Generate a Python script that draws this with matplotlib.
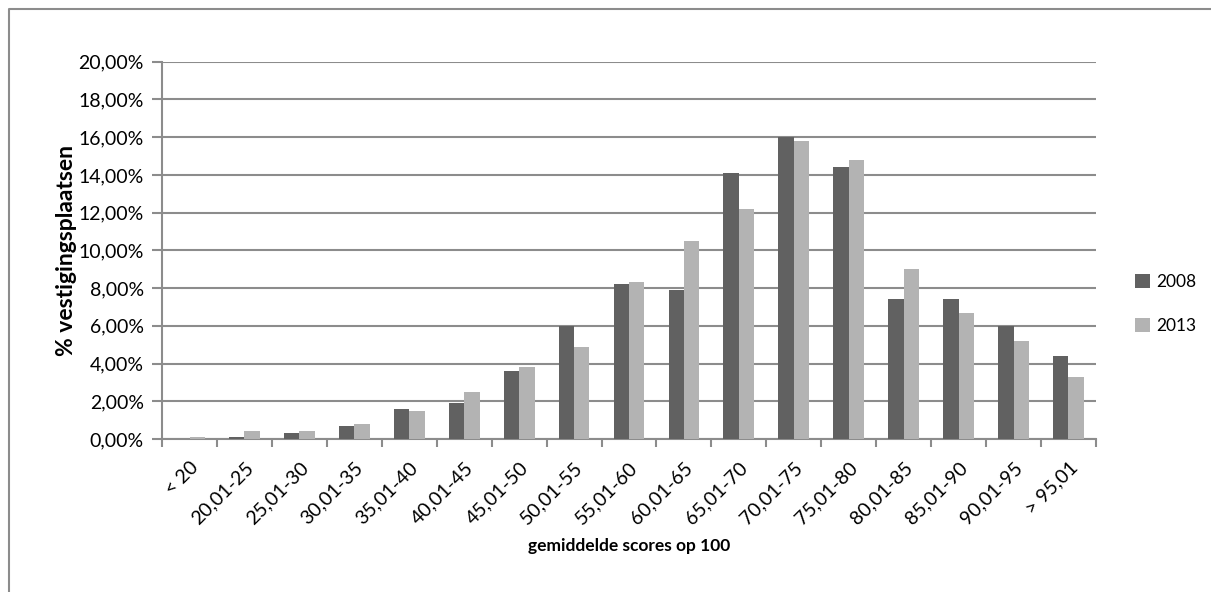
import matplotlib
matplotlib.use("Agg")
import matplotlib.pyplot as plt
import numpy as np
from matplotlib.lines import Line2D
from matplotlib.ticker import FuncFormatter

plt.rcParams['font.family'] = ['Lato', 'DejaVu Sans']

categories = ['< 20', '20,01-25', '25,01-30', '30,01-35', '35,01-40', '40,01-45',
              '45,01-50', '50,01-55', '55,01-60', '60,01-65', '65,01-70', '70,01-75',
              '75,01-80', '80,01-85', '85,01-90', '90,01-95', '> 95,01']
pct_2008 = [0.0, 0.1, 0.3, 0.7, 1.6, 1.9, 3.6, 6.0, 8.2, 7.9, 14.1, 16.0, 14.4, 7.4, 7.4, 6.0, 4.4]
pct_2013 = [0.1, 0.4, 0.4, 0.8, 1.5, 2.5, 3.8, 4.9, 8.3, 10.5, 12.2, 15.8, 14.8, 9.0, 6.7, 5.2, 3.3]

dark = '#616161'
light = '#b3b3b3'
grid = '#8c8c8c'

fig = plt.figure(figsize=(12.11, 5.92), dpi=100)
ax = fig.add_axes([0.1338, 0.2584, 0.7712, 0.6374])

x = np.arange(len(categories))
w = 0.28
ax.bar(x - w / 2, pct_2008, w, color=dark, label='2008', zorder=3)
ax.bar(x + w / 2, pct_2013, w, color=light, label='2013', zorder=3)

ax.set_xlim(-0.5, len(categories) - 0.5)
ax.set_ylim(0, 20)
ax.set_yticks(np.arange(0, 21, 2))
ax.yaxis.set_major_formatter(FuncFormatter(lambda v, p: f"{v:.2f}%".replace('.', ',')))
ax.grid(axis='y', color=grid, linewidth=1.5, zorder=0)

# category boundaries carry the tick marks, labels sit at the centres
ax.set_xticks(np.arange(-0.5, len(categories)), minor=False)
ax.set_xticklabels([])
ax.set_xticks(x, minor=True)
ax.set_xticklabels(categories, minor=True, rotation=45, ha='right',
                   rotation_mode='anchor', fontsize=14)
ax.tick_params(axis='x', which='minor', length=0, pad=14)
ax.tick_params(axis='x', which='major', length=6, width=1.5, color=grid)
ax.tick_params(axis='y', length=7, width=1.5, color=grid, labelsize=14, pad=6)

for side in ['top', 'right']:
    ax.spines[side].set_visible(False)
ax.spines['left'].set_color(grid)
ax.spines['left'].set_linewidth(1.5)
ax.spines['bottom'].set_color(grid)
ax.spines['bottom'].set_linewidth(1.5)

ax.set_ylabel('% vestigingsplaatsen', fontsize=16.5, fontweight='bold', labelpad=1)
ax.set_xlabel('gemiddelde scores op 100', fontsize=12.5, fontweight='bold', labelpad=8)

ax.legend(loc='center left', bbox_to_anchor=(1.025, 0.358), frameon=False,
          fontsize=12.5, handlelength=0.85, handleheight=0.85, handletextpad=0.4,
          labelspacing=1.6)

# outer chart frame
fig.add_artist(Line2D([0.0074, 0.0074, 1.0], [0.0, 0.9848, 0.9848],
                      transform=fig.transFigure, color='#8c8c8c', linewidth=1.5))

fig.savefig('out.png', dpi=100)
